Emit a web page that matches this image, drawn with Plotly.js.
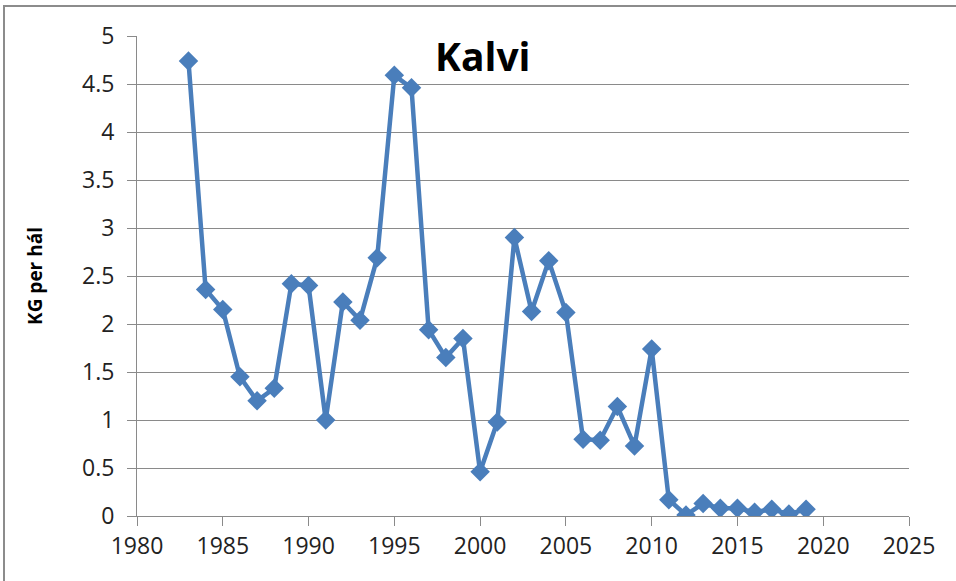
<!DOCTYPE html>
<html>
<head>
<meta charset="utf-8">
<script src="https://cdn.plot.ly/plotly-3.0.1.min.js"></script>
<style>
  html, body { margin: 0; padding: 0; background: #fff; }
  #wrap { position: relative; width: 956px; height: 581px; overflow: hidden; }
  #frame { position: absolute; left: 3px; top: 5px; width: 1000px; height: 1000px;
           border-top: 2px solid #8c8c8c; border-left: 2px solid #8c8c8c; pointer-events: none; }
  #chart { position: absolute; left: 0; top: 0; width: 956px; height: 581px; }
</style>
</head>
<body>
<div id="wrap">
  <div id="chart"></div>
  <div id="frame"></div>
</div>
<script>
const years = [1983,1984,1985,1986,1987,1988,1989,1990,1991,1992,1993,1994,1995,1996,1997,1998,1999,2000,2001,2002,2003,2004,2005,2006,2007,2008,2009,2010,2011,2012,2013,2014,2015,2016,2017,2018,2019];
const kgPerHal = [4.74,2.36,2.15,1.45,1.20,1.33,2.42,2.40,1.00,2.23,2.04,2.69,4.59,4.46,1.94,1.65,1.85,0.46,0.98,2.90,2.13,2.66,2.12,0.80,0.79,1.14,0.73,1.74,0.17,0.01,0.13,0.08,0.08,0.04,0.07,0.02,0.07];
const xTicks = [1980,1985,1990,1995,2000,2005,2010,2015,2020,2025];
const yTicks = [0,0.5,1,1.5,2,2.5,3,3.5,4,4.5,5];
const yTickText = ['0','0.5','1','1.5','2','2.5','3','3.5','4','4.5','5'];

const blue = '#4A7EBB';
const grid = '#8a8a8a';

Plotly.newPlot('chart', [{
  x: years,
  y: kgPerHal,
  type: 'scatter',
  mode: 'lines+markers',
  line: { color: blue, width: 4.5 },
  marker: { symbol: 'diamond', size: 15, color: blue },
  hoverinfo: 'x+y'
}], {
  width: 956, height: 581,
  margin: { l: 137, r: 47, t: 36, b: 65 },
  paper_bgcolor: '#ffffff',
  plot_bgcolor: '#ffffff',
  showlegend: false,
  font: { family: 'Open Sans, sans-serif', color: '#222' },
  title: {
    text: '<b>Kalvi</b>',
    font: { family: 'Open Sans, sans-serif', size: 39, color: '#000' },
    x: 0.505, xanchor: 'center',
    y: 0.902, yanchor: 'middle',
    xref: 'container', yref: 'container'
  },
  xaxis: {
    range: [1980, 2025],
    tickvals: xTicks,
    ticktext: xTicks.map(String),
    showgrid: false,
    zeroline: false,
    showline: true, linecolor: grid, linewidth: 1,
    ticks: 'outside', ticklen: 9, tickcolor: grid, tickwidth: 1,
    tickfont: { family: 'Open Sans, sans-serif', size: 23, color: '#222' },
    fixedrange: true
  },
  yaxis: {
    range: [0, 5],
    tickvals: yTicks,
    ticktext: yTickText,
    showgrid: true, gridcolor: grid, gridwidth: 1,
    zeroline: false,
    showline: true, linecolor: grid, linewidth: 1,
    ticks: 'outside', ticklen: 9, tickcolor: grid, tickwidth: 1,
    tickfont: { family: 'Open Sans, sans-serif', size: 23, color: '#222' },
    ticklabelstandoff: 8,
    title: { text: '<b>KG per hál</b>', font: { family: 'Open Sans, sans-serif', size: 19, color: '#000' }, standoff: 34 },
    fixedrange: true
  }
}, { displayModeBar: false, staticPlot: true });
</script>
</body>
</html>
